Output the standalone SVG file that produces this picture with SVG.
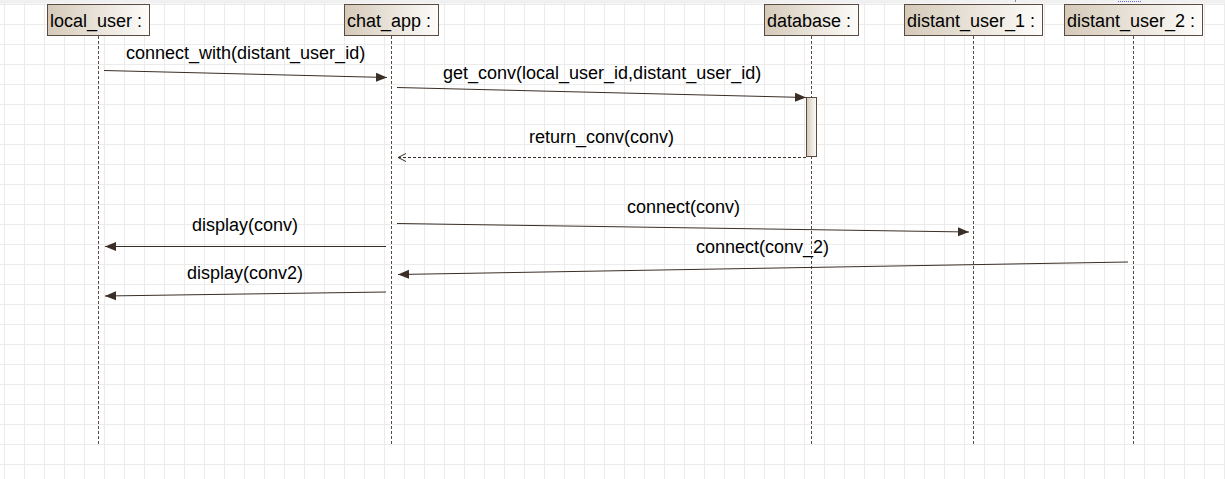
<svg xmlns="http://www.w3.org/2000/svg" width="1225" height="479" viewBox="0 0 1225 479">
<defs>
<pattern id="grid" x="4" y="4" width="20" height="20" patternUnits="userSpaceOnUse">
<path d="M0.5 0 V20 M0 0.5 H20" fill="none" stroke="#ebebeb" stroke-width="1"/>
</pattern>
<linearGradient id="boxg" x1="0" y1="0" x2="1" y2="0">
<stop offset="0" stop-color="#d5cab9"/>
<stop offset="1" stop-color="#fdfcfa"/>
</linearGradient>
<marker id="filled" viewBox="0 0 11 10" refX="11" refY="5" markerWidth="11" markerHeight="10" markerUnits="userSpaceOnUse" orient="auto">
<path d="M0 0.5 L11 5 L0 9.5 Z" fill="#3a2e26"/>
</marker>
<marker id="open" viewBox="0 0 10 10" refX="9" refY="5" markerWidth="10" markerHeight="10" markerUnits="userSpaceOnUse" orient="auto">
<path d="M1 1 L9 5 L1 9" fill="none" stroke="#3a2e26" stroke-width="1"/>
</marker>
</defs>
<style>
.box{fill:url(#boxg);stroke:#5a4a40;stroke-width:1}
.name{font-family:"Liberation Sans",Arial,sans-serif;font-size:18px;fill:#000}
.life{stroke:#5a4a40;stroke-width:1;stroke-dasharray:3 2}
.msg{stroke:#3a2e26;stroke-width:1;fill:none}
.call{marker-end:url(#filled)}
.ret{stroke-dasharray:3 2;marker-end:url(#open)}
.lbl{font-family:"Liberation Sans",Arial,sans-serif;font-size:18px;fill:#000}
</style>
<rect width="1225" height="479" fill="#ffffff"/>
<rect width="1225" height="479" fill="url(#grid)"/>
<rect x="0" y="0" width="1225" height="3.5" fill="#f0f0f0"/>
<line x1="1015.5" y1="0" x2="1015.5" y2="2" stroke="#888"/>
<line x1="1118" y1="1.5" x2="1141" y2="1.5" stroke="#6a6ae0" stroke-dasharray="1 1"/>

<g id="local_user">
<line class="life" x1="98.5" y1="36" x2="98.5" y2="445"/>
<rect class="box" x="47.5" y="4.5" width="102" height="31"/>
<text class="name" x="50" y="27">local_user :</text>
</g>
<g id="chat_app">
<line class="life" x1="391.5" y1="36" x2="391.5" y2="445"/>
<rect class="box" x="344.5" y="4.5" width="94" height="31"/>
<text class="name" x="347" y="27">chat_app :</text>
</g>
<g id="database">
<line class="life" x1="811.5" y1="36" x2="811.5" y2="445"/>
<rect class="box" x="764.5" y="4.5" width="94" height="31"/>
<text class="name" x="767" y="27">database :</text>
<rect class="box" x="806.5" y="97.5" width="10" height="59"/>
</g>
<g id="distant_user_1">
<line class="life" x1="973.5" y1="36" x2="973.5" y2="445"/>
<rect class="box" x="904.5" y="4.5" width="138" height="31"/>
<text class="name" x="907" y="27">distant_user_1 :</text>
</g>
<g id="distant_user_2">
<line class="life" x1="1133.5" y1="36" x2="1133.5" y2="445"/>
<rect class="box" x="1064.5" y="4.5" width="138" height="31"/>
<text class="name" x="1067" y="27">distant_user_2 :</text>
</g>

<g id="connectors">
<line class="msg call" x1="104" y1="70.5" x2="387" y2="77.5"/>
<text class="lbl" x="126" y="59">connect_with(distant_user_id)</text>
<line class="msg call" x1="397" y1="87.5" x2="806" y2="97.5"/>
<text class="lbl" x="443" y="79">get_conv(local_user_id,distant_user_id)</text>
<line class="msg ret" x1="806" y1="157.5" x2="398" y2="157.5"/>
<text class="lbl" x="529" y="143">return_conv(conv)</text>
<line class="msg call" x1="397" y1="223.5" x2="969" y2="232"/>
<text class="lbl" x="627" y="213">connect(conv)</text>
<line class="msg call" x1="386" y1="246.5" x2="105" y2="246.5"/>
<text class="lbl" x="192" y="231">display(conv)</text>
<line class="msg call" x1="1128" y1="262" x2="398" y2="274.5"/>
<text class="lbl" x="696" y="253">connect(conv_2)</text>
<line class="msg call" x1="386" y1="292" x2="105" y2="296"/>
<text class="lbl" x="187" y="279">display(conv2)</text>
</g>
</svg>
